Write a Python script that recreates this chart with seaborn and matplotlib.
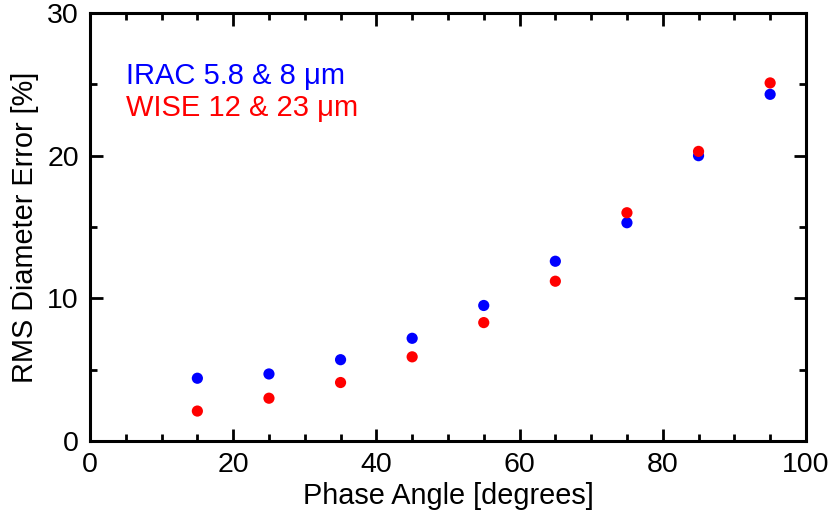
import matplotlib
matplotlib.use("Agg")
import matplotlib.pyplot as plt
import seaborn as sns
import pandas as pd
from matplotlib.ticker import MultipleLocator

# valores
fase = [15, 25, 35, 45, 55, 65, 75, 85, 95]
irac = [4.4, 4.7, 5.7, 7.2, 9.5, 12.6, 15.3, 20.0, 24.3]
wise = [2.1, 3.0, 4.1, 5.9, 8.3, 11.2, 16.0, 20.3, 25.1]
series = ["IRAC 5.8 & 8 \u03bcm", "WISE 12 & 23 \u03bcm"]
cores = ["#0000ff", "#ff0000"]

df = pd.DataFrame({
    "fase": fase * 2,
    "erro": irac + wise,
    "serie": [series[0]] * len(fase) + [series[1]] * len(fase),
})

sns.set_theme(style="ticks", rc={
    "text.color": "black", "axes.labelcolor": "black",
    "xtick.color": "black", "ytick.color": "black",
    "axes.edgecolor": "black",
})
plt.rcParams["font.family"] = ["Liberation Sans", "DejaVu Sans"]

fig = plt.figure(figsize=(8.3, 5.14), dpi=100)
ax = fig.add_axes([0.1084, 0.142, 0.8626, 0.8327])

sns.scatterplot(data=df, x="fase", y="erro", hue="serie", palette=cores,
                s=65, edgecolor="none", legend=False, ax=ax, zorder=3)

ax.set_xlim(0, 100)
ax.set_ylim(0, 30)
ax.xaxis.set_major_locator(MultipleLocator(20))
ax.xaxis.set_minor_locator(MultipleLocator(5))
ax.yaxis.set_major_locator(MultipleLocator(10))
ax.yaxis.set_minor_locator(MultipleLocator(5))
ax.tick_params(which="both", direction="in", top=True, right=True,
               width=2, color="black", labelsize=20.5, pad=8)
ax.tick_params(which="major", length=9)
ax.tick_params(which="minor", length=5)
for s in ax.spines.values():
    s.set_linewidth(2.2)

ax.set_xlabel("Phase Angle [degrees]", fontsize=20.8, labelpad=3)
ax.set_ylabel("RMS Diameter Error [%]", fontsize=20.8, labelpad=6)

# legenda em texto colorido
for i, (nome, cor) in enumerate(zip(series, cores)):
    ax.text(5.1, 25.6 - 2.25 * i, nome, color=cor, fontsize=21,
            ha="left", va="center")

fig.savefig("out.png", dpi=100)
